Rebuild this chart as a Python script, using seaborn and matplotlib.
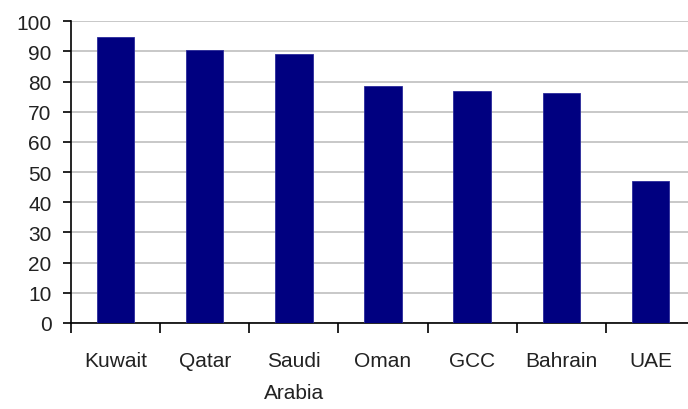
import matplotlib
matplotlib.use("Agg")
import matplotlib.pyplot as plt
import seaborn as sns
import numpy as np
from matplotlib.ticker import FixedLocator

categories = ["Kuwait", "Qatar", "Saudi\nArabia", "Oman", "GCC", "Bahrain", "UAE"]
values = [94.8, 90.4, 89.0, 78.4, 76.8, 76.2, 47.2]
y_ticks = list(range(0, 101, 10))

sns.set_theme(style="white")
plt.rcParams['font.family'] = ['Liberation Sans', 'DejaVu Sans']

fig = plt.figure(figsize=(6.88, 4.10), dpi=100)
W, H = 688, 410
left, right, top, bottom = 71, 695, 22.3, 324
ax = fig.add_axes([left / W, (H - bottom) / H, (right - left) / W, (bottom - top) / H])

sns.barplot(x=categories, y=values, color="#000080", saturation=1, width=0.42,
            edgecolor="#2a2a9a", linewidth=0.6, ax=ax, zorder=3)

ax.set_ylim(0, 100)
ax.set_xlim(-0.5, len(categories) - 0.5)
ax.set_yticks(y_ticks)
ax.set_yticklabels([str(t) for t in y_ticks])
ax.yaxis.grid(True, color="#c4c4c4", linewidth=1.3, zorder=0)
ax.xaxis.grid(False)
ax.set_axisbelow(True)

for s in ["top", "right"]:
    ax.spines[s].set_visible(False)
for s in ["left", "bottom"]:
    ax.spines[s].set_color("black")
    ax.spines[s].set_linewidth(1.2)

ax.xaxis.set_minor_locator(FixedLocator(np.arange(-0.5, len(categories), 1.0)))
ax.tick_params(axis="x", which="major", length=0, pad=20, labelsize=15, labelcolor="#222222")
ax.tick_params(axis="x", which="minor", bottom=True, length=7, width=1.2, color="black", direction="out")
ax.tick_params(axis="y", which="major", left=True, length=6, width=1.2, color="black",
               direction="out", pad=8, labelsize=15, labelcolor="#222222")
for lbl in ax.get_xticklabels():
    lbl.set_linespacing(1.9)
    lbl.set_verticalalignment("top")

ax.set_xlabel("")
ax.set_ylabel("")

fig.savefig("out.png", dpi=100)
